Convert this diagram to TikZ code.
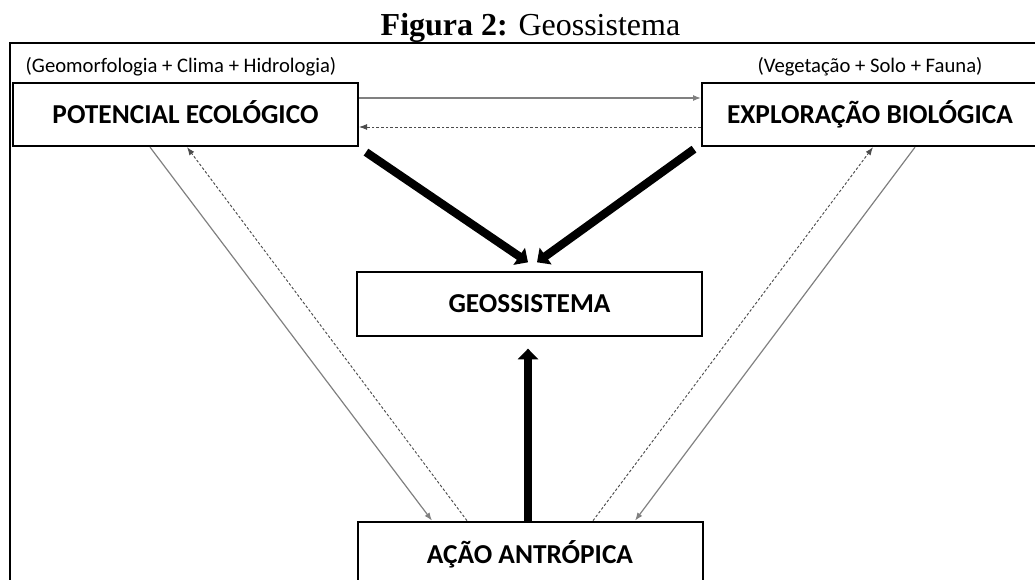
\documentclass[tikz,border=0pt]{standalone}
\usepackage{fontspec}
\setmainfont{Carlito}
\newfontfamily\titlefont{Liberation Serif}
\usetikzlibrary{arrows.meta,calc}
\begin{document}
\begin{tikzpicture}[x=0.75pt,y=-0.75pt,
  box/.style={draw,line width=1.5pt,inner sep=0pt,minimum width=258.75pt,minimum height=47.5pt,text height=13.2pt,text depth=0pt,font=\fontsize{20.5}{24}\selectfont\bfseries},
  small/.style={font=\fontsize{15.5}{18}\selectfont,inner sep=0pt},
  thin/.style={draw=black!50,line width=0.9pt,-{Latex[length=6pt,width=4.5pt]}},
  thindash/.style={draw=black!70,line width=0.7pt,dash pattern=on 2pt off 1.5pt,-{Latex[length=6pt,width=4.5pt]}},
  thick/.style={line width=6.2pt,-{Triangle[length=8pt,width=15pt]}}]
\useasboundingbox (0,0) rectangle (1035,580);
\clip (0,0) rectangle (1035,580);
% title
\node[font=\titlefont\fontsize{24}{28}\selectfont,inner sep=0pt,anchor=base] (title) at (530.5,36) {\textbf{Figura 2:} Geossistema};
% frame
\draw[line width=1.5pt] (10,590) -- (10,43) -- (1040,43);
% boxes
\node[box] (pot) at (185.5,114.5) {POTENCIAL ECOLÓGICO};
\node[box,minimum width=252pt] (expl) at (870,114.5) {EXPLORAÇÃO BIOLÓGICA};
\node[box] (geo) at (529.5,304) {GEOSSISTEMA};
\node[box,minimum height=50pt] (acao) at (530,555) {AÇÃO ANTRÓPICA};
% small labels
\node[small] (lpot) at (181,67) {(Geomorfologia + Clima + Hidrologia)};
\node[small] (lexpl) at (870,67) {(Vegetação + Solo + Fauna)};
% horizontal connectors
\draw[thin] ($(pot.east)+(0,-16.5)$) -- ($(expl.west)+(0,-16.5)$);
\draw[thindash] ($(expl.west)+(0,12.5)$) -- ($(pot.east)+(0,12.5)$);
% diagonal connectors left
\draw[thin] ($(pot.south)+(-35.5,0)$) -- ($(acao.north)+(-98,0)$);
\draw[thindash] ($(acao.north)+(-63,0)$) -- ($(pot.south)+(1.5,0)$);
% diagonal connectors right
\draw[thindash] ($(acao.north)+(63,0)$) -- ($(expl.south)+(3,0)$);
\draw[thin] ($(expl.south)+(45,0)$) -- ($(acao.north)+(105,0)$);
% thick arrows
\draw[thick] ($(pot.south east)+(7,5)$) -- ($(geo.north)+(-1.5,-9)$);
\draw[thick] ($(expl.south west)+(-7,2)$) -- ($(geo.north)+(7.5,-9)$);
\draw[thick] ($(acao.north)+(-2,0)$) -- ($(geo.south)+(-1.5,12)$);
\end{tikzpicture}
\end{document}
